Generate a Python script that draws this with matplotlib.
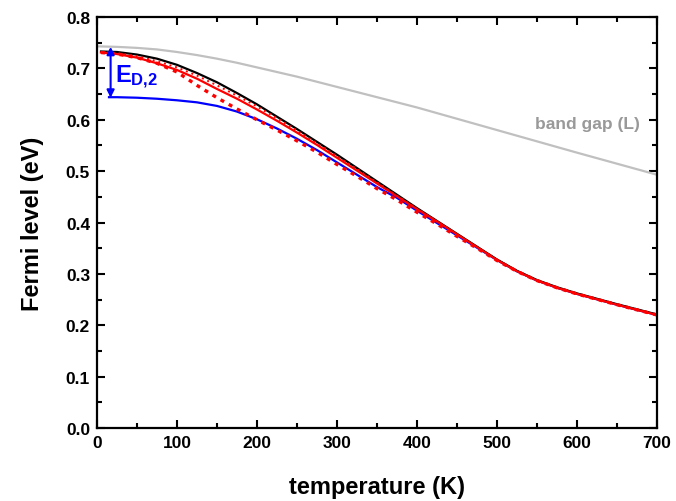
import matplotlib
matplotlib.use("Agg")
import matplotlib.pyplot as plt
from matplotlib.ticker import MultipleLocator

plt.rcParams["font.family"] = ["Liberation Sans", "DejaVu Sans"]
plt.rcParams["font.weight"] = "bold"
plt.rcParams["mathtext.fontset"] = "custom"
plt.rcParams["mathtext.rm"] = "Liberation Sans:bold"
plt.rcParams["mathtext.bf"] = "Liberation Sans:bold"

# band gap (L)
T_gap = [0, 25, 50, 75, 100, 125, 150, 175, 200, 250, 300, 350, 400, 500, 600, 700]
E_gap = [0.743, 0.742, 0.740, 0.737, 0.732, 0.726, 0.719, 0.711, 0.702, 0.684,
         0.664, 0.644, 0.624, 0.580, 0.536, 0.493]

# Fermi level curves
T_hi = [5, 25, 50, 75, 100, 125, 150, 175, 200, 225, 250, 275, 300, 325, 350,
        375, 400, 425, 450, 475, 500, 525, 550, 575, 600, 650, 700]
E_black = [0.733, 0.732, 0.727, 0.719, 0.707, 0.691, 0.673, 0.652, 0.630, 0.606,
           0.582, 0.557, 0.532, 0.506, 0.480, 0.454, 0.428, 0.403, 0.378, 0.353,
           0.328, 0.306, 0.288, 0.274, 0.262, 0.241, 0.221]
E_red = [0.731, 0.728, 0.721, 0.710, 0.697, 0.680, 0.660, 0.641, 0.620, 0.598,
         0.575, 0.551, 0.526, 0.501, 0.476, 0.451, 0.426, 0.402, 0.377, 0.352,
         0.327, 0.305, 0.287, 0.273, 0.261, 0.240, 0.220]
E_red_dot = [0.732, 0.730, 0.724, 0.714, 0.702, 0.686, 0.667, 0.647, 0.626, 0.603,
             0.579, 0.554, 0.529, 0.504, 0.478, 0.452, 0.427, 0.402, 0.377, 0.352,
             0.327, 0.305, 0.287, 0.273, 0.261, 0.240, 0.220]
E_red_dash = [0.731, 0.728, 0.721, 0.710, 0.693, 0.667, 0.643, 0.621, 0.600, 0.580,
              0.559, 0.537, 0.513, 0.490, 0.466, 0.444, 0.420, 0.397, 0.373, 0.350,
              0.326, 0.305, 0.287, 0.273, 0.261, 0.240, 0.220]

T_blue = [15, 25, 50, 75, 100, 125, 150, 175, 200, 225, 250, 275, 300, 325, 350,
          375, 400, 425, 450, 475, 500, 525, 550, 575, 600, 650, 700]
E_blue = [0.644, 0.644, 0.643, 0.641, 0.638, 0.634, 0.627, 0.616, 0.601, 0.583,
          0.563, 0.541, 0.517, 0.493, 0.469, 0.448, 0.423, 0.399, 0.375, 0.351,
          0.327, 0.305, 0.287, 0.273, 0.261, 0.240, 0.220]

# E_D,2 arrow
T_arrow = 17
E_arrow = (0.742, 0.643)

fig = plt.figure(figsize=(6.76, 5.02), dpi=100)
ax = fig.add_axes([0.1435, 0.1454, 0.8285, 0.8186])

ax.plot(T_gap, E_gap, color="#c0c0c0", lw=1.6)
ax.plot(T_blue, E_blue, color="blue", lw=1.6)
ax.plot(T_hi, E_black, color="black", lw=1.6)
ax.plot(T_hi, E_red, color="red", lw=1.6)
ax.plot(T_hi, E_red_dot, color="red", lw=1.4, ls=(0, (1, 2)))
ax.plot(T_hi, E_red_dash, color="red", lw=2.4, ls=(0, (1.2, 1.6)))

ax.annotate("", xy=(T_arrow, E_arrow[0]), xytext=(T_arrow, E_arrow[1]),
            arrowprops=dict(arrowstyle="<|-|>", color="blue", lw=1.5,
                            mutation_scale=11, shrinkA=0, shrinkB=0))
ax.text(23, 0.685, r"$\mathbf{E_{D{,}2}}$", color="blue", fontsize=17,
        ha="left", va="center")
ax.text(679, 0.592, "band gap (L)", color="#999999", fontsize=12.5,
        fontweight="bold", ha="right", va="center")

ax.set_xlim(0, 700)
ax.set_ylim(0, 0.8)
ax.xaxis.set_major_locator(MultipleLocator(100))
ax.xaxis.set_minor_locator(MultipleLocator(50))
ax.yaxis.set_major_locator(MultipleLocator(0.1))
ax.yaxis.set_minor_locator(MultipleLocator(0.05))
ax.yaxis.set_major_formatter(plt.FormatStrFormatter("%.1f"))
ax.tick_params(which="both", direction="in", top=True, right=True, width=1.5,
               labelsize=12.5)
ax.tick_params(which="major", length=6, pad=5)
ax.tick_params(which="minor", length=3.5)
for s in ax.spines.values():
    s.set_linewidth(1.6)

ax.set_xlabel("temperature (K)", fontsize=17, fontweight="bold", labelpad=18)
ax.set_ylabel("Fermi level (eV)", fontsize=17, fontweight="bold", labelpad=16)

plt.savefig("out.png", dpi=100)
